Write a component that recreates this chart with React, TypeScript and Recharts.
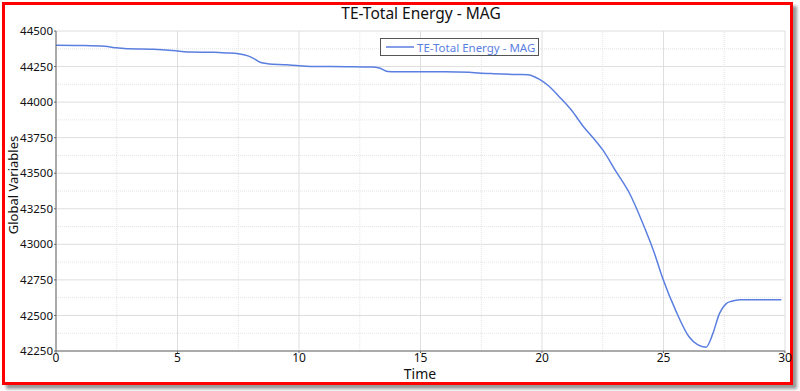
import React from 'react';
import { LineChart, Line, XAxis, YAxis, CartesianGrid, ReferenceLine } from 'recharts';

const times = [0, 1, 2, 2.5, 3, 4, 5, 5.5, 6.5, 7, 7.5, 7.9, 8.2, 8.4, 8.7, 9.5, 10, 10.5, 12, 13, 13.3, 13.65, 14, 15, 16, 17, 17.4, 18, 19, 19.4, 19.9, 20.3, 20.7, 21.2, 21.7, 22.1, 22.5, 23.05, 23.6, 24.15, 24.6, 24.97, 25.5, 26.05, 26.4, 26.75, 27.03, 27.3, 27.58, 27.8, 28.15, 29, 29.85];
const energy = [44400, 44398, 44392, 44382, 44375, 44372, 44360, 44352, 44350, 44346, 44340, 44325, 44300, 44280, 44270, 44262, 44255, 44251, 44249, 44246, 44240, 44215, 44213, 44213, 44213, 44210, 44205, 44200, 44194, 44193, 44160, 44110, 44040, 43946, 43829, 43750, 43664, 43511, 43359, 43147, 42950, 42760, 42536, 42350, 42295, 42277, 42372, 42513, 42583, 42600, 42611, 42611, 42611];

const xTicks = [0, 5, 10, 15, 20, 25, 30];
const yTicks = [42250, 42500, 42750, 43000, 43250, 43500, 43750, 44000, 44250, 44500];
const xMinor = [2.5, 7.5, 12.5, 17.5, 22.5, 27.5];
const yMinor = [42375, 42625, 42875, 43125, 43375, 43625, 43875, 44125, 44375];

const seriesName = 'TE-Total Energy - MAG';
const data = times.map((t, i) => ({ t, e: energy[i] }));

const font = '"Noto Sans", "Open Sans", sans-serif';
const blue = '#5b7fe0';

export default function App() {
  return (
    <div style={{ position: 'absolute', left: 0, top: 0, width: 800, height: 391, background: '#fff', fontFamily: font }}>
      <div style={{ position: 'absolute', left: 2, top: 2, width: 785, height: 377, border: '3px solid #ff0000', boxShadow: '4px 4px 3px #999' }} />
      <div style={{ position: 'absolute', left: 0, top: 2, width: 842, textAlign: 'center', fontSize: 15.5, color: '#111' }}>{seriesName}</div>
      <div style={{ position: 'absolute', left: 420, top: 367, transform: 'translateX(-50%)', fontSize: 14, lineHeight: '14px', color: '#111' }}>Time</div>
      <div style={{ position: 'absolute', left: 13, top: 185, transform: 'translate(-50%, -50%) rotate(-90deg)', fontSize: 13, lineHeight: '13px', color: '#111', whiteSpace: 'nowrap' }}>Global Variables</div>
      <LineChart width={800} height={391} data={data} margin={{ top: 31, right: 15, left: 0, bottom: 20 }} style={{ position: 'absolute', left: 0, top: 0 }}>
        <CartesianGrid stroke="#dedede" strokeWidth={1} />
        {xMinor.map((x) => (
          <ReferenceLine key={'x' + x} x={x} stroke="#e4e4e4" strokeDasharray="1 1" />
        ))}
        {yMinor.map((y) => (
          <ReferenceLine key={'y' + y} y={y} stroke="#e4e4e4" strokeDasharray="1 1" />
        ))}
        <XAxis dataKey="t" type="number" domain={[0, 30]} ticks={xTicks} height={20} stroke="#666" tickSize={2} tickMargin={0} tick={{ fill: '#111', fontSize: 12, fontFamily: font }} />
        <XAxis xAxisId="top" orientation="top" dataKey="t" type="number" domain={[0, 30]} tick={false} height={0} stroke="#666" />
        <YAxis type="number" domain={[42250, 44500]} ticks={yTicks} width={56} stroke="#666" tickSize={2} tickMargin={1} tick={{ fill: '#111', fontSize: 11.5, fontFamily: font }} />
        <YAxis yAxisId="right" orientation="right" type="number" domain={[42250, 44500]} tick={false} width={0} stroke="#666" />
        <Line type="monotone" dataKey="e" name={seriesName} stroke={blue} strokeWidth={1.5} dot={false} isAnimationActive={false} />
      </LineChart>
      <div style={{ position: 'absolute', left: 380, top: 38, display: 'flex', alignItems: 'center', border: '1px solid #555', background: '#fff', padding: '0 3px 0 3px', height: 16, fontSize: 11.5, color: blue, whiteSpace: 'nowrap' }}>
        <svg width={30} height={4} style={{ marginRight: 3 }}>
          <line x1={2} y1={2} x2={30} y2={2} stroke={blue} strokeWidth={1.5} />
        </svg>
        {seriesName}
      </div>
    </div>
  );
}
